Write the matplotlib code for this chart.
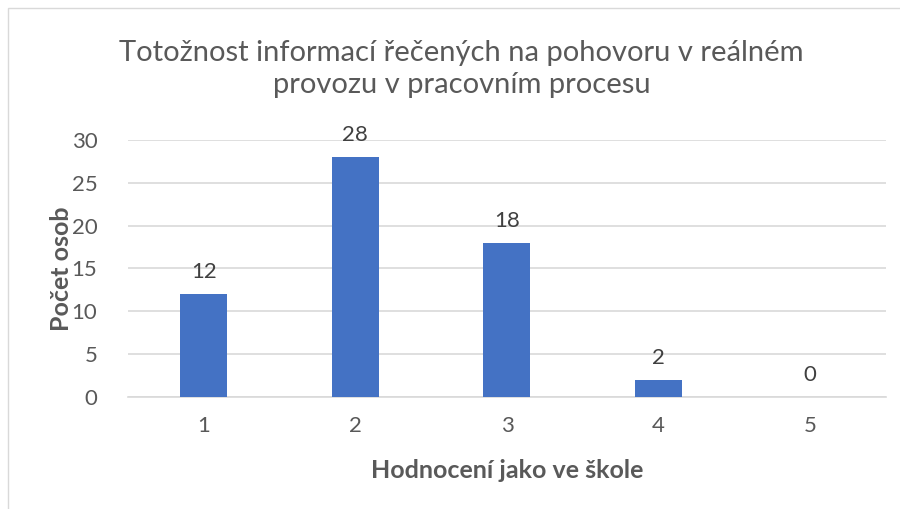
import matplotlib
matplotlib.use('Agg')
from matplotlib import pyplot as plt
from matplotlib.patches import Rectangle

categories = ['1', '2', '3', '4', '5']
values = [12, 28, 18, 2, 0]

title = 'Totožnost informací řečených na pohovoru v reálném\nprovozu v pracovním procesu'
x_label = 'Hodnocení jako ve škole'
y_label = 'Počet osob'

text_color = '#595959'
bar_color = '#4472C4'
grid_color = '#D9D9D9'

plt.rcParams['font.family'] = ['Lato', 'DejaVu Sans']

fig = plt.figure(figsize=(9, 5.09), dpi=100)
fig.patches.append(Rectangle((8 / 900, -0.1), 1.2, 1 - 8 / 509 + 0.1,
                             transform=fig.transFigure, fill=False,
                             edgecolor='#D9D9D9', linewidth=1))

ax = fig.add_axes([0.1422, 0.22, 0.8422, 0.505])
positions = range(1, len(categories) + 1)
bars = ax.bar(positions, values, width=0.31, color=bar_color, zorder=3)

for pos, val in zip(positions, values):
    ax.text(pos, val + 1.4, str(val), ha='center', va='bottom',
            fontsize=16, color='#404040')

ax.set_xlim(0.5, 5.5)
ax.set_ylim(0, 30)
ax.set_yticks(range(0, 31, 5))
ax.set_xticks(list(positions))
ax.set_xticklabels(categories)
ax.yaxis.grid(True, color=grid_color, linewidth=1.2, zorder=0)
ax.tick_params(axis='both', length=0, labelsize=16, labelcolor=text_color)
ax.tick_params(axis='x', pad=14)
ax.tick_params(axis='y', pad=22)
for side in ['top', 'right', 'left']:
    ax.spines[side].set_visible(False)
ax.spines['bottom'].set_color(grid_color)
ax.spines['bottom'].set_linewidth(1.2)

ax.set_xlabel(x_label, fontsize=18, fontweight='bold', color=text_color, labelpad=16)
ax.set_ylabel(y_label, fontsize=18, fontweight='bold', color=text_color, labelpad=-1)

fig.text(0.513, 0.864, title, ha='center', va='center', fontsize=21,
         color=text_color, linespacing=1.3)

fig.savefig('out.png', dpi=100)
